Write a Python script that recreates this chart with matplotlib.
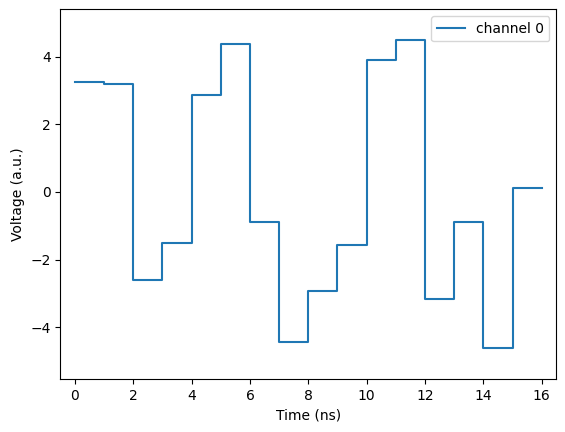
import matplotlib
matplotlib.use('Agg')
import matplotlib.pyplot as plt
import numpy as np

# one sample per ns, held until the next one
time_ns = np.arange(17)
voltage = [3.25, 3.20, -2.59, -1.50, 2.88, 4.38, -0.88, -4.43,
           -2.92, -1.56, 3.91, 4.50, -3.16, -0.89, -4.61, 0.13]
voltage = voltage + [voltage[-1]]  # repeat last so the final step is drawn

fig = plt.figure(figsize=(5.65, 4.32), dpi=100)
ax = fig.add_axes([60.3 / 565, (432 - 379) / 432,
                   (556.3 - 60.3) / 565, (379 - 9.3) / 432])
ax.step(time_ns, voltage, where='post', label='channel 0')
ax.set_xlim(-0.5, 16.5)
ax.set_ylim(-5.53, 5.40)
ax.set_xlabel('Time (ns)')
ax.set_ylabel('Voltage (a.u.)')
ax.legend(loc='upper right')
fig.savefig('out.png', dpi=100)
